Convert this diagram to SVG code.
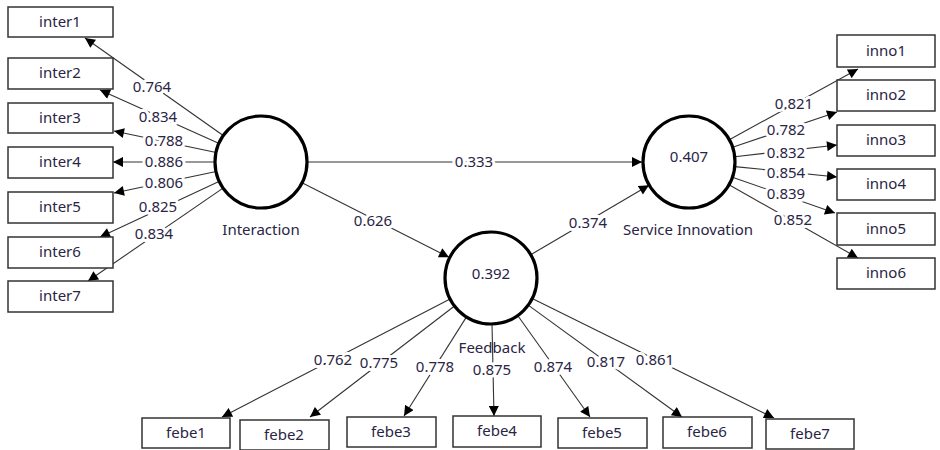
<svg xmlns="http://www.w3.org/2000/svg" width="940" height="450" viewBox="0 0 940 450">
<style>
.box{fill:#fff;stroke:#333;stroke-width:1.5}
.lv{fill:#fff;stroke:#000;stroke-width:3.2}
.t{font-family:"Noto Sans","Open Sans",sans-serif;font-size:15px;fill:#2a2545;text-anchor:middle}
.lbl{font-family:"Noto Sans","Open Sans",sans-serif;font-size:15px;fill:#2a2545;text-anchor:middle;stroke:#fff;stroke-width:6;paint-order:stroke;stroke-linejoin:round}
.c{stroke:#333;stroke-width:1.1;fill:none;marker-end:url(#ah)}
</style>
<defs>
<marker id="ah" viewBox="0 0 10 10" refX="10" refY="5" markerWidth="11" markerHeight="10" orient="auto" markerUnits="userSpaceOnUse">
<path d="M0,0 L10,5 L0,10 z" fill="#000"/>
</marker>
</defs>
<rect width="940" height="450" fill="#fff"/>
<g id="connectors">
<line class="c" x1="222.5" y1="135" x2="85" y2="38"/>
<line class="c" x1="218" y1="143" x2="100" y2="90"/>
<line class="c" x1="215" y1="152.3" x2="114" y2="131"/>
<line class="c" x1="214" y1="162" x2="113" y2="162"/>
<line class="c" x1="215" y1="171.7" x2="114" y2="193"/>
<line class="c" x1="218.4" y1="181.8" x2="100" y2="237"/>
<line class="c" x1="222.3" y1="188.6" x2="88" y2="281"/>
<line class="c" x1="729.3" y1="139.8" x2="858" y2="69"/>
<line class="c" x1="732.6" y1="147.3" x2="837" y2="112"/>
<line class="c" x1="734.7" y1="156.8" x2="837" y2="145"/>
<line class="c" x1="734.8" y1="166.6" x2="837" y2="177"/>
<line class="c" x1="732.4" y1="177.2" x2="835" y2="213"/>
<line class="c" x1="729" y1="184.7" x2="858" y2="258"/>
<line class="c" x1="450.1" y1="299.1" x2="222" y2="417"/>
<line class="c" x1="454.5" y1="306" x2="310" y2="417"/>
<line class="c" x1="466.5" y1="316.9" x2="404" y2="416"/>
<line class="c" x1="492" y1="324" x2="494" y2="416"/>
<line class="c" x1="517.7" y1="315.5" x2="590" y2="417"/>
<line class="c" x1="528.2" y1="305.1" x2="682" y2="417"/>
<line class="c" x1="532.2" y1="298.4" x2="774" y2="418"/>
<line class="c" x1="308" y1="162" x2="642" y2="162"/>
<line class="c" x1="303" y1="183.2" x2="449" y2="257.3"/>
<line class="c" x1="530.7" y1="254.8" x2="649" y2="185.2"/>
<text class="lbl" x="152" y="92">0.764</text>
<text class="lbl" x="158" y="122">0.834</text>
<text class="lbl" x="164" y="146">0.788</text>
<text class="lbl" x="164" y="167">0.886</text>
<text class="lbl" x="164" y="188">0.806</text>
<text class="lbl" x="158" y="212">0.825</text>
<text class="lbl" x="154" y="239">0.834</text>
<text class="lbl" x="794" y="109">0.821</text>
<text class="lbl" x="786" y="135">0.782</text>
<text class="lbl" x="786" y="158">0.832</text>
<text class="lbl" x="786" y="178">0.854</text>
<text class="lbl" x="786" y="199">0.839</text>
<text class="lbl" x="793" y="225">0.852</text>
<text class="lbl" x="333" y="365">0.762</text>
<text class="lbl" x="379" y="368">0.775</text>
<text class="lbl" x="435" y="372">0.778</text>
<text class="lbl" x="492" y="375">0.875</text>
<text class="lbl" x="553" y="372">0.874</text>
<text class="lbl" x="606" y="367">0.817</text>
<text class="lbl" x="655" y="365">0.861</text>
<text class="lbl" x="474" y="167">0.333</text>
<text class="lbl" x="373" y="226">0.626</text>
<text class="lbl" x="588" y="228">0.374</text>
</g>
<g id="Interaction"><circle class="lv" cx="261" cy="162" r="46"/><text class="t" x="261" y="235">Interaction</text></g>
<g id="ServiceInnovation"><circle class="lv" cx="689" cy="162" r="46"/><text class="t" x="689" y="162">0.407</text><text class="t" x="688" y="235">Service Innovation</text></g>
<g id="Feedback"><circle class="lv" cx="491" cy="278" r="46"/><text class="t" x="491" y="279">0.392</text><text class="t" x="492" y="353">Feedback</text></g>
<g id="inter1"><rect class="box" x="8" y="7" width="105" height="30"/><text class="t" x="60" y="27">inter1</text></g>
<g id="inter2"><rect class="box" x="8" y="58" width="105" height="31"/><text class="t" x="60" y="78">inter2</text></g>
<g id="inter3"><rect class="box" x="8" y="103" width="105" height="30"/><text class="t" x="60" y="123">inter3</text></g>
<g id="inter4"><rect class="box" x="8" y="147" width="105" height="31"/><text class="t" x="60" y="167">inter4</text></g>
<g id="inter5"><rect class="box" x="8" y="192" width="105" height="31"/><text class="t" x="60" y="212">inter5</text></g>
<g id="inter6"><rect class="box" x="8" y="237" width="105" height="31"/><text class="t" x="60" y="257">inter6</text></g>
<g id="inter7"><rect class="box" x="8" y="281" width="105" height="31"/><text class="t" x="60" y="301">inter7</text></g>
<g id="inno1"><rect class="box" x="837" y="35" width="98" height="32"/><text class="t" x="886" y="56">inno1</text></g>
<g id="inno2"><rect class="box" x="837" y="80" width="98" height="31"/><text class="t" x="886" y="100">inno2</text></g>
<g id="inno3"><rect class="box" x="837" y="125" width="98" height="31"/><text class="t" x="886" y="145">inno3</text></g>
<g id="inno4"><rect class="box" x="837" y="169" width="98" height="31"/><text class="t" x="886" y="189">inno4</text></g>
<g id="inno5"><rect class="box" x="837" y="213" width="98" height="32"/><text class="t" x="886" y="234">inno5</text></g>
<g id="inno6"><rect class="box" x="837" y="258" width="98" height="31"/><text class="t" x="886" y="278">inno6</text></g>
<g id="febe1"><rect class="box" x="142" y="418" width="88" height="30"/><text class="t" x="186" y="438">febe1</text></g>
<g id="febe2"><rect class="box" x="240" y="420" width="89" height="30"/><text class="t" x="284" y="440">febe2</text></g>
<g id="febe3"><rect class="box" x="347" y="417" width="89" height="30"/><text class="t" x="391" y="437">febe3</text></g>
<g id="febe4"><rect class="box" x="453" y="416" width="88" height="31"/><text class="t" x="497" y="436">febe4</text></g>
<g id="febe5"><rect class="box" x="558" y="418" width="89" height="30"/><text class="t" x="602" y="438">febe5</text></g>
<g id="febe6"><rect class="box" x="663" y="417" width="89" height="31"/><text class="t" x="707" y="437">febe6</text></g>
<g id="febe7"><rect class="box" x="766" y="419" width="88" height="30"/><text class="t" x="810" y="439">febe7</text></g>
</svg>
